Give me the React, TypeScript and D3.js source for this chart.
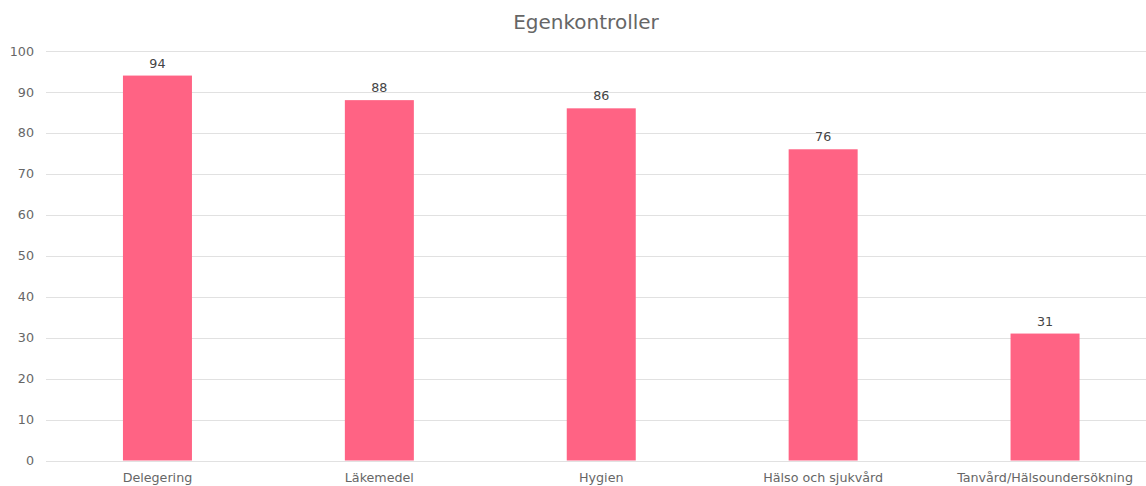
import React from "react";
import * as d3 from "d3";

const categories = ["Delegering", "Läkemedel", "Hygien", "Hälso och sjukvård", "Tanvård/Hälsoundersökning"];
const values = [94, 88, 86, 76, 31];
const yTicks = [0, 10, 20, 30, 40, 50, 60, 70, 80, 90, 100];
const title = "Egenkontroller";

const W = 1146;
const H = 486;
const FONT = "'DejaVu Sans', Verdana, sans-serif";

export default function App() {
  const x = d3.scaleBand<string>().domain(categories).range([46.5, 1156]).paddingInner(0).paddingOuter(0);
  const y = d3.scaleLinear().domain([0, 100]).range([460.5, 51]);
  const barW = 69;

  return (
    <svg width={W} height={H} style={{ position: "absolute", left: 0, top: 0, background: "#fff" }} fontFamily={FONT}>
      <text x={586} y={29} textAnchor="middle" fontSize={20} fill="#666">{title}</text>
      {yTicks.map((t) => (
        <g key={t}>
          <line x1={46} x2={W} y1={Math.round(y(t)) + 0.5} y2={Math.round(y(t)) + 0.5} stroke="#e1e1e1" strokeWidth={1} />
          <text x={34} y={y(t)} dy="0.36em" textAnchor="end" fontSize={12.7} fill="#666">{t}</text>
        </g>
      ))}
      {categories.map((c, i) => {
        const cx = (x(c) as number) + x.bandwidth() / 2;
        return (
          <g key={c}>
            <rect x={cx - barW / 2} y={y(values[i])} width={barW} height={y(0) - y(values[i])} fill="#ff6384" />
            <text x={cx} y={y(values[i]) - 8} textAnchor="middle" fontSize={12.7} fill="#444">{values[i]}</text>
            <text x={cx} y={482} textAnchor="middle" fontSize={12.7} fill="#666">{c}</text>
          </g>
        );
      })}
    </svg>
  );
}
